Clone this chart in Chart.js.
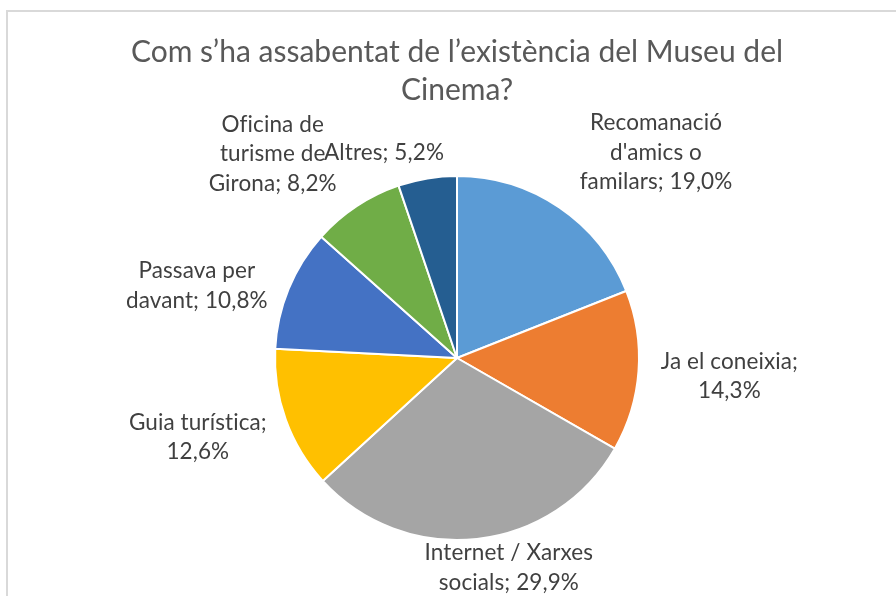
<!DOCTYPE html>
<html>
<head>
<meta charset="utf-8">
<script src="https://cdn.jsdelivr.net/npm/chart.js@4/dist/chart.umd.min.js"></script>
<style>
  body { margin: 0; background: #fff; }
  .frame { position: absolute; left: 6px; top: 10px; width: 900px; height: 600px; border: 2px solid #d9d9d9; }
  canvas { position: absolute; left: 0; top: 0; }
</style>
</head>
<body>
<div class="frame"></div>
<canvas id="pieChart" width="896" height="596"></canvas>
<script>
const categories = [
  "Recomanació d'amics o familars",
  "Ja el coneixia",
  "Internet / Xarxes socials",
  "Guia turística",
  "Passava per davant",
  "Oficina de turisme de Girona",
  "Altres"
];
const percentages = [19.0, 14.3, 29.9, 12.6, 10.8, 8.2, 5.2];
const sliceColors = ['#5B9BD5', '#ED7D31', '#A5A5A5', '#FFC000', '#4472C4', '#70AD47', '#255E91'];
const titleLines = ["Com s’ha assabentat de l’existència del Museu del", "Cinema?"];

// label placement: distance from pie centre and angle nudge (degrees), plus wrap width
const labelPlace = [
  { dist: 286, nudge: 9.9, wrap: 168 },
  { dist: 273, nudge: -0.3, wrap: 168 },
  { dist: 216, nudge: -7.6, wrap: 180 },
  { dist: 271, nudge: 2.8, wrap: 168 },
  { dist: 270, nudge: -6.8, wrap: 168 },
  { dist: 275, nudge: -8.6, wrap: 135 },
  { dist: 218, nudge: -10.2, wrap: 168 }
];

const FONT = "Lato";

function wrapText(ctx, text, maxWidth) {
  const words = text.split(' ');
  const lines = [];
  let cur = '';
  words.forEach(w => {
    const test = cur ? cur + ' ' + w : w;
    if (cur && ctx.measureText(test).width > maxWidth) {
      lines.push(cur);
      cur = w;
    } else {
      cur = test;
    }
  });
  if (cur) lines.push(cur);
  return lines;
}

const outsideLabels = {
  id: 'outsideLabels',
  afterDatasetsDraw(chart) {
    const ctx = chart.ctx;
    const meta = chart.getDatasetMeta(0);
    ctx.save();
    ctx.font = '22.5px ' + FONT;
    ctx.letterSpacing = '0.1px';
    ctx.fillStyle = '#404040';
    ctx.textAlign = 'center';
    ctx.textBaseline = 'middle';
    meta.data.forEach((arc, i) => {
      const p = arc.getProps(['x', 'y', 'startAngle', 'endAngle'], true);
      const place = labelPlace[i];
      const mid = (p.startAngle + p.endAngle) / 2 + place.nudge * Math.PI / 180;
      const cx = p.x + place.dist * Math.cos(mid);
      const cy = p.y + place.dist * Math.sin(mid);
      const text = categories[i] + '; ' + percentages[i].toFixed(1).replace('.', ',') + '%';
      const lines = wrapText(ctx, text, place.wrap);
      const lh = 29.5;
      lines.forEach((ln, k) => {
        ctx.fillText(ln, cx, cy + (k - (lines.length - 1) / 2) * lh);
      });
    });
    ctx.restore();
  }
};

new Chart(document.getElementById('pieChart'), {
  type: 'pie',
  data: {
    labels: categories,
    datasets: [{
      data: percentages,
      backgroundColor: sliceColors,
      borderColor: '#ffffff',
      borderWidth: 2
    }]
  },
  options: {
    responsive: false,
    devicePixelRatio: 1,
    animation: false,
    layout: { padding: { top: 0, left: 18, right: 0, bottom: 55 } },
    plugins: {
      legend: { display: false },
      tooltip: { enabled: false },
      title: {
        display: true,
        text: titleLines,
        color: '#595959',
        font: { family: FONT, size: 30, weight: 'normal', lineHeight: 38 / 30 },
        padding: { top: 33, bottom: 66 }
      }
    }
  },
  plugins: [outsideLabels]
});
</script>
</body>
</html>
